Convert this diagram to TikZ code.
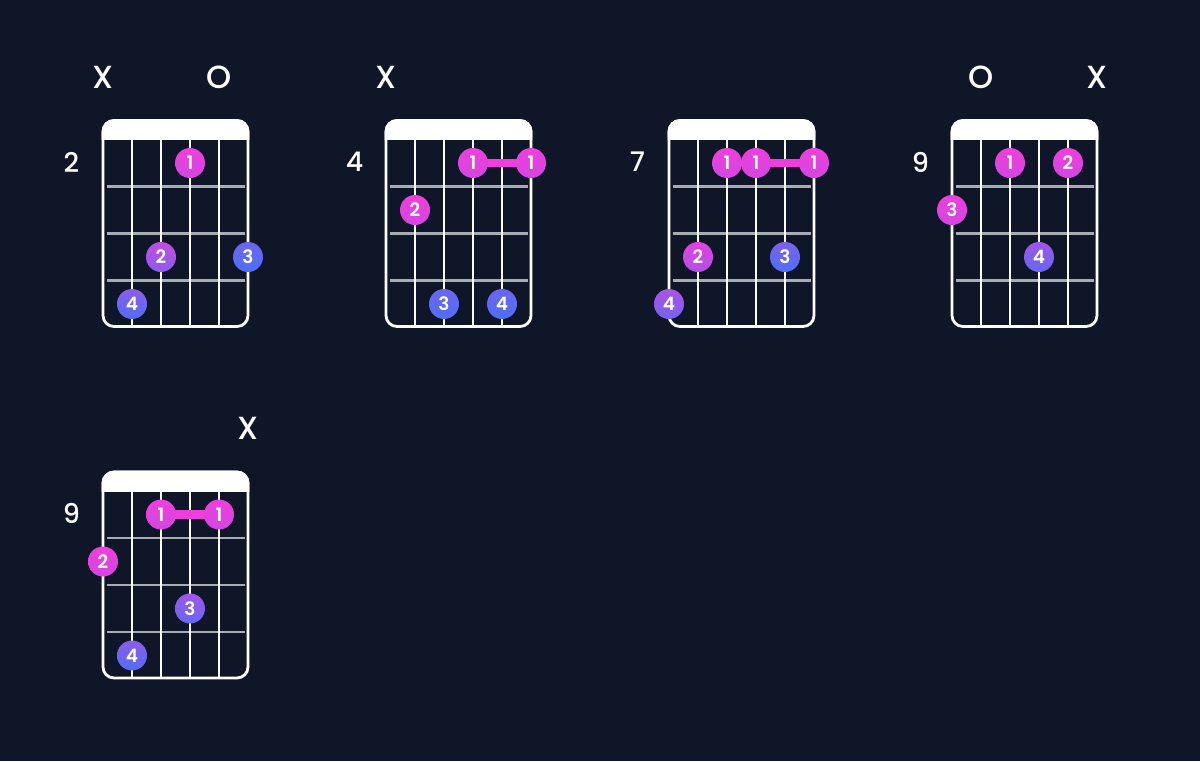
\documentclass[tikz,border=0pt]{standalone}
\usepackage{fontspec}
\setmainfont{Poppins}[UprightFont=* Medium, BoldFont=* SemiBold]
\definecolor{bg}{HTML}{0E1628}
\definecolor{cpink}{HTML}{F03EDC}
\definecolor{cblue}{HTML}{4F6EF5}
\definecolor{fretgray}{HTML}{A8ACB4}
\tikzset{
  frameline/.style={draw=white, line width=2.8pt, rounded corners=11pt},
  stringline/.style={draw=white, line width=2.8pt},
  fretline/.style={draw=fretgray, line width=2.4pt},
  mutelabel/.style={text=white, font=\fontsize{32}{32}\selectfont, inner sep=0pt},
  fretnum/.style={text=white, font=\fontsize{27}{27}\selectfont, inner sep=0pt},
  fingerdot/.style={circle, minimum size=30pt, inner sep=0pt, text=white, font=\fontsize{18.5}{18.5}\selectfont\bfseries},
  barre/.style={draw=cpink, line width=8.5pt},
}
\newcommand{\chordframe}{%
  \begin{scope}
    \clip (-10,-10) rectangle (160,19);
    \fill[white, rounded corners=12.4pt] (-1.4,-1.4) rectangle (146.4,207.4);
  \end{scope}
  \foreach \f in {1,2,3} \draw[fretline] (3.5,19+47*\f) -- (141.5,19+47*\f);
  \foreach \s in {1,...,4} \draw[stringline] (29*\s,19) -- (29*\s,206);
  \draw[frameline] (0,0) rectangle (145,206);
}
% #1 name, #2 string (0-5), #3 row (1-4), #4 label, #5 colour position 0..100
\newcommand{\fdot}[5]{%
  \pgfmathtruncatemacro\tA{max(0,min(100,#5-18))}%
  \pgfmathtruncatemacro\tB{max(0,min(100,#5+18))}%
  \colorlet{dtop}{cblue!\tA!cpink}%
  \colorlet{dbot}{cblue!\tB!cpink}%
  \node[fingerdot, top color=dtop, bottom color=dbot] (#1) at (29*#2, 47*#3-4.5) {#4};
}
\newcommand{\spot}[3]{\coordinate (#1) at (29*#2, 47*#3-4.5);}
\begin{document}
\begin{tikzpicture}[x=1pt,y=-1pt]
  \fill[bg] (0,0) rectangle (1200,761);
  % chord 1
  \begin{scope}[shift={(103,120.5)}]
    \chordframe
    \node[mutelabel] (c1x) at (0,-43.5) {X};
    \node[mutelabel] (c1o) at (116,-43.5) {O};
    \node[fretnum] (c1n) at (-31.5,41.5) {2};
    \fdot{c1a}{3}{1}{1}{0}
    \fdot{c1b}{2}{3}{2}{46}
    \fdot{c1c}{5}{3}{3}{100}
    \fdot{c1d}{1}{4}{4}{80}
  \end{scope}
  % chord 2
  \begin{scope}[shift={(386,120.5)}]
    \chordframe
    \node[mutelabel] (c2x) at (0,-43.5) {X};
    \node[fretnum] (c2n) at (-31.5,41.5) {4};
    \spot{c2p}{3}{1}\spot{c2q}{5}{1}
    \draw[barre] (c2p) -- (c2q);
    \fdot{c2a}{3}{1}{1}{0}
    \fdot{c2e}{5}{1}{1}{0}
    \fdot{c2b}{1}{2}{2}{0}
    \fdot{c2c}{2}{4}{3}{100}
    \fdot{c2d}{4}{4}{4}{100}
  \end{scope}
  % chord 3
  \begin{scope}[shift={(669,120.5)}]
    \chordframe
    \node[fretnum] (c3n) at (-31.5,41.5) {7};
    \spot{c3p}{3}{1}\spot{c3q}{5}{1}
    \draw[barre] (c3p) -- (c3q);
    \fdot{c3a}{2}{1}{1}{0}
    \fdot{c3e}{3}{1}{1}{0}
    \fdot{c3f}{5}{1}{1}{0}
    \fdot{c3b}{1}{3}{2}{24}
    \fdot{c3c}{4}{3}{3}{90}
    \fdot{c3d}{0}{4}{4}{60}
  \end{scope}
  % chord 4
  \begin{scope}[shift={(952,120.5)}]
    \chordframe
    \node[mutelabel] (c4o) at (29,-43.5) {O};
    \node[mutelabel] (c4x) at (145,-43.5) {X};
    \node[fretnum] (c4n) at (-31.5,41.5) {9};
    \fdot{c4a}{2}{1}{1}{0}
    \fdot{c4b}{4}{1}{2}{0}
    \fdot{c4c}{0}{2}{3}{0}
    \fdot{c4d}{3}{3}{4}{68}
  \end{scope}
  % chord 5
  \begin{scope}[shift={(103,472)}]
    \chordframe
    \node[mutelabel] (c5x) at (145,-43.5) {X};
    \node[fretnum] (c5n) at (-31.5,41.5) {9};
    \spot{c5p}{2}{1}\spot{c5q}{4}{1}
    \draw[barre] (c5p) -- (c5q);
    \fdot{c5a}{2}{1}{1}{0}
    \fdot{c5e}{4}{1}{1}{0}
    \fdot{c5b}{0}{2}{2}{0}
    \fdot{c5c}{3}{3}{3}{68}
    \fdot{c5d}{1}{4}{4}{80}
  \end{scope}
\end{tikzpicture}
\end{document}
